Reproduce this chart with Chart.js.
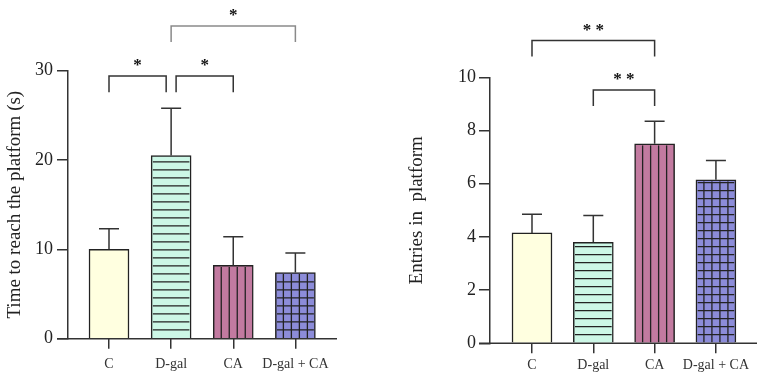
<!DOCTYPE html>
<html>
<head>
<meta charset="utf-8">
<script src="https://cdn.jsdelivr.net/npm/chart.js"></script>
<style>
    body { margin: 0; background: #fff; }
    #grafico1 { position: absolute; left: 0; top: 0; }
    #grafico2 { position: absolute; left: 380px; top: 0; }
</style>
</head>
<body>
<canvas id="grafico1" width="380" height="380"></canvas>
<canvas id="grafico2" width="384" height="380"></canvas>
<script>
// dados
var grupos = ['C', 'D-gal', 'CA', 'D-gal + CA'];
var tempoMedia = [10.0, 20.5, 8.2, 7.4];
var tempoErro = [2.3, 5.3, 3.2, 2.2];
var entradasMedia = [4.15, 3.8, 7.5, 6.15];
var entradasErro = [0.7, 1.0, 0.85, 0.72];
var tempoTicks = [0, 10, 20, 30];
var entradasTicks = [0, 2, 4, 6, 8, 10];

var corBarras = ['#FFFFE0', '#CCF7E6', '#C27AA0', '#8C8CD9'];
var padraoBarras = ['liso', 'horizontal', 'vertical', 'grade'];

// significancia: [de, ate, nivel, perna, rotulo, cor]
var sigTempo = [
    [0, 0.92, 29.4, 1.8, '*', '#333'],
    [1.08, 2, 29.4, 1.8, '*', '#333'],
    [1, 3, 35.0, 1.8, '*', '#8a8a8a']
];
var sigEntradas = [
    [0, 2, 11.38, 0.6, '* *', '#333'],
    [1, 2, 9.52, 0.6, '* *', '#333']
];

Chart.defaults.font.family = "'Liberation Serif', 'Times New Roman', serif";
Chart.defaults.color = '#222';

function desenharPadrao(ctx, barra, tipo, bw) {
    let esq = barra.x - barra.width / 2 + bw;
    let dir = barra.x + barra.width / 2 - bw;
    let topo = barra.y + bw;
    let base = barra.base;
    if (tipo == 'liso') return;
    ctx.save();
    ctx.beginPath();
    ctx.rect(esq, topo, dir - esq, base - topo);
    ctx.clip();
    ctx.strokeStyle = '#222';
    ctx.lineWidth = 1.3;
    ctx.beginPath();
    if (tipo == 'horizontal' || tipo == 'grade') {
        for (let y = base - 8; y > topo; y -= 8) {
            ctx.moveTo(esq, y); ctx.lineTo(dir, y);
        }
    }
    if (tipo == 'vertical' || tipo == 'grade') {
        let x0 = barra.x - barra.width / 2;
        for (let x = x0 + 8; x < dir; x += 8) {
            ctx.moveTo(x, topo); ctx.lineTo(x, base);
        }
    }
    ctx.stroke();
    ctx.restore();
}

function plotarGrafico(id, media, erro, ticksY, tituloY, sig, lay) {
    let extras = {
        id: 'extras',
        afterDatasetsDraw(chart) {
            let ctx = chart.ctx;
            let xS = chart.scales.x, yS = chart.scales.y;
            let meta = chart.getDatasetMeta(0);
            // padroes das barras
            meta.data.forEach(function (barra, i) {
                desenharPadrao(ctx, barra, padraoBarras[i], 1.5);
            });
            // barras de erro (so para cima)
            ctx.save();
            ctx.strokeStyle = '#333';
            ctx.lineWidth = 1.5;
            meta.data.forEach(function (barra, i) {
                let yTopo = yS.getPixelForValue(media[i] + erro[i]);
                ctx.beginPath();
                ctx.moveTo(barra.x, barra.y);
                ctx.lineTo(barra.x, yTopo);
                ctx.moveTo(barra.x - 10, yTopo);
                ctx.lineTo(barra.x + 10, yTopo);
                ctx.stroke();
            });
            // eixo x estendido ate a marca do eixo y
            let area = chart.chartArea;
            ctx.beginPath();
            ctx.moveTo(area.left - 11, area.bottom);
            ctx.lineTo(area.right, area.bottom);
            ctx.stroke();
            // colchetes de significancia
            sig.forEach(function (s) {
                let x1 = xS.getPixelForValue(s[0]);
                let x2 = xS.getPixelForValue(s[1]);
                let yN = yS.getPixelForValue(s[2]);
                let yP = yS.getPixelForValue(s[2] - s[3]);
                ctx.strokeStyle = s[5];
                ctx.lineWidth = 1.5;
                ctx.beginPath();
                ctx.moveTo(x1, yP); ctx.lineTo(x1, yN);
                ctx.lineTo(x2, yN); ctx.lineTo(x2, yP);
                ctx.stroke();
                ctx.fillStyle = '#111';
                ctx.font = "bold 17px 'Liberation Serif'";
                ctx.textAlign = 'center';
                ctx.textBaseline = 'alphabetic';
                ctx.fillText(s[4], (x1 + x2) / 2, yN - 15 + 9);
            });
            ctx.restore();
        }
    };

    const config = {
        type: 'bar',
        data: {
            datasets: [{
                data: grupos.map((g, i) => ({ x: i, y: media[i] })),
                backgroundColor: corBarras,
                borderColor: '#222',
                borderWidth: 1.5,
                barThickness: 40
            }]
        },
        options: {
            responsive: false,
            animation: false,
            layout: { padding: { top: lay.top, right: lay.right, left: 0, bottom: 0 } },
            plugins: { legend: { display: false }, tooltip: { enabled: false } },
            scales: {
                x: {
                    type: 'linear',
                    offset: false,
                    min: lay.xmin,
                    max: lay.xmax,
                    afterBuildTicks: function (ax) { ax.ticks = grupos.map((g, i) => ({ value: i })); },
                    afterFit: function (ax) { ax.height = lay.xh; },
                    ticks: {
                        callback: function (v, i) { return grupos[i]; },
                        font: { size: 14 },
                        color: '#333',
                        padding: lay.xpad,
                        maxRotation: 0,
                        autoSkip: false
                    },
                    grid: { offset: false, drawOnChartArea: false, tickLength: 10, color: '#333', lineWidth: 1.5 },
                    border: { display: false }
                },
                y: {
                    min: 0,
                    max: ticksY[ticksY.length - 1],
                    afterBuildTicks: function (ax) { ax.ticks = ticksY.map(v => ({ value: v })); },
                    afterFit: function (ax) { ax.width = lay.yw; },
                    ticks: { font: { size: 18 }, color: '#222', padding: lay.ypad },
                    grid: { drawOnChartArea: false, tickLength: 11, color: '#333', lineWidth: 1.5 },
                    border: { display: true, color: '#333', width: 1.5 },
                    title: {
                        display: true,
                        text: tituloY,
                        font: { size: 19 },
                        color: '#222',
                        padding: { top: lay.tpad, bottom: 0 }
                    }
                }
            }
        },
        plugins: [extras]
    };

    new Chart(document.getElementById(id), config);
}

plotarGrafico('grafico1', tempoMedia, tempoErro, tempoTicks, 'Time to reach the platform (s)', sigTempo,
    { top: 70.7, right: 43, xh: 41.3, yw: 68, xmin: -0.66, xmax: 3.67, xpad: 7, ypad: 4, tpad: 4 });
plotarGrafico('grafico2', entradasMedia, entradasErro, entradasTicks, 'Entries in  platform', sigEntradas,
    { top: 77.3, right: 7, xh: 36.7, yw: 110, xmin: -0.685, xmax: 3.67, xpad: 4, ypad: 3, tpad: 26 });
</script>
</body>
</html>
